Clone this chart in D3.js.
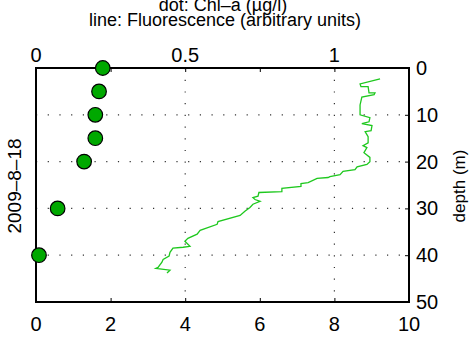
<!DOCTYPE html>
<html>
<head>
<meta charset="utf-8">
<script src="https://d3js.org/d3.v7.min.js"></script>
<style>
  body { margin: 0; background: #fff; }
  text { font-family: "Liberation Sans", Arial, Helvetica, sans-serif; fill: #000; }
</style>
</head>
<body>
<svg id="chart" width="470" height="338"></svg>
<script>
// Chl-a samples (dots), bottom axis
var chlDepth = [0, 5, 10, 15, 20, 30, 40];
var chlValue = [1.79, 1.69, 1.59, 1.59, 1.29, 0.58, 0.08];

// fluorescence profile (line), top axis
var fluorDepth = [2.3, 3.4, 4.0, 4.0, 5.3, 5.3, 5.7, 6.2, 7.9, 10.0, 10.6, 11.5, 11.9, 12.3, 13.4, 13.6,
  14.7, 16.0, 16.6, 17.0, 18.1, 19.1, 20.0, 20.6, 21.1, 21.7, 22.1, 22.8, 23.2, 23.4, 23.6, 24.5,
  24.7, 25.3, 25.7, 26.4, 26.6, 27.4, 27.7, 28.1, 28.5, 29.1, 29.8, 30.6, 31.5, 32.8, 33.4, 34.7,
  35.5, 36.4, 37.0, 38.1, 38.3, 38.5, 39.4, 40.2, 40.9, 41.5, 42.6, 42.8, 43.2, 43.8];
var fluorValue = [1.153, 1.086, 1.089, 1.113, 1.116, 1.136, 1.133, 1.092, 1.086, 1.086, 1.119, 1.116, 1.092, 1.126, 1.123, 1.103,
  1.113, 1.113, 1.096, 1.109, 1.099, 1.119, 1.119, 1.109, 1.076, 1.069, 1.029, 1.019, 0.985, 0.979, 0.942, 0.912,
  0.888, 0.888, 0.824, 0.824, 0.747, 0.744, 0.727, 0.734, 0.751, 0.727, 0.717, 0.700, 0.684, 0.610, 0.607, 0.550,
  0.540, 0.509, 0.499, 0.516, 0.493, 0.459, 0.449, 0.446, 0.426, 0.422, 0.409, 0.402, 0.449, 0.439];

var bottomTicks = [0, 2, 4, 6, 8, 10];
var topTicks = [0, 0.25, 0.5, 0.75, 1, 1.25];
var topLabels = [0, 0.5, 1];
var depthTicks = [0, 10, 20, 30, 40, 50];

var plotL = 36, plotR = 409, plotT = 68, plotB = 302;
var svg = d3.select("#chart");

var xChl = d3.scaleLinear().domain([0, 10]).range([plotL, plotR]);
var xFl = d3.scaleLinear().domain([0, 1.25]).range([plotL, plotR]);
var y = d3.scaleLinear().domain([0, 50]).range([plotT, plotB]);

// grid: horizontal from depth axis, vertical from top axis
var grid = svg.append("g")
  .attr("stroke", "#333").attr("stroke-width", 1.2).attr("stroke-dasharray", "1.2,10.5");
grid.selectAll("line.h").data([10, 20, 30, 40]).enter().append("line")
  .attr("x1", plotL).attr("x2", plotR)
  .attr("y1", function(d){ return y(d); }).attr("y2", function(d){ return y(d); });
grid.selectAll("line.v").data([0.5, 1]).enter().append("line")
  .attr("y1", plotT).attr("y2", plotB)
  .attr("x1", function(d){ return xFl(d); }).attr("x2", function(d){ return xFl(d); });

// fluorescence line
var line = d3.line()
  .x(function(d, i){ return xFl(fluorValue[i]); })
  .y(function(d){ return y(d); });
svg.append("path").datum(fluorDepth)
  .attr("d", line).attr("fill", "none")
  .attr("stroke", "#1ec81e").attr("stroke-width", 1.3);

// axes (ticks inward)
var xAxisB = d3.axisTop(xChl).tickValues(bottomTicks).tickSize(4).tickFormat("");
var gB = svg.append("g").attr("transform", "translate(0," + plotB + ")").call(xAxisB);
var xAxisT = d3.axisBottom(xFl).tickValues(topTicks).tickSize(4).tickFormat("");
var gT = svg.append("g").attr("transform", "translate(0," + plotT + ")").call(xAxisT);
var yAxisR = d3.axisLeft(y).tickValues(depthTicks).tickSize(4).tickFormat("");
var gR = svg.append("g").attr("transform", "translate(" + plotR + ",0)").call(yAxisR);
[gB, gT, gR].forEach(function(g){
  g.select(".domain").remove();
  g.selectAll(".tick line").attr("stroke", "#000").attr("stroke-width", 1);
});

// box
svg.append("rect").attr("x", plotL).attr("y", plotT)
  .attr("width", plotR - plotL).attr("height", plotB - plotT)
  .attr("fill", "none").attr("stroke", "#000").attr("stroke-width", 2);

// Chl-a dots
svg.selectAll("circle.chl").data(chlDepth).enter().append("circle")
  .attr("cx", function(d, i){ return xChl(chlValue[i]); })
  .attr("cy", function(d){ return y(d); })
  .attr("r", 7.3)
  .attr("fill", "#00a800").attr("stroke", "#000").attr("stroke-width", 1.2);

// tick labels
svg.selectAll("text.bl").data(bottomTicks).enter().append("text")
  .attr("x", function(d){ return xChl(d); }).attr("y", 331)
  .attr("text-anchor", "middle").attr("font-size", 20).text(function(d){ return d; });
svg.selectAll("text.tl").data(topLabels).enter().append("text")
  .attr("x", function(d){ return xFl(d); }).attr("y", 62)
  .attr("text-anchor", "middle").attr("font-size", 20).text(function(d){ return d; });
svg.selectAll("text.rl").data(depthTicks).enter().append("text")
  .attr("x", 416).attr("y", function(d){ return y(d) + 7; })
  .attr("font-size", 20).text(function(d){ return d; });

// titles
svg.append("text").attr("x", 223).attr("y", 11).attr("text-anchor", "middle")
  .attr("font-size", 18).text("dot: Chl\u2013a (\u00b5g/l)");
svg.append("text").attr("x", 225).attr("y", 26).attr("text-anchor", "middle")
  .attr("font-size", 18).text("line: Fluorescence (arbitrary units)");

svg.append("text").attr("transform", "translate(21,186) rotate(-90)")
  .attr("text-anchor", "middle").attr("font-size", 19).text("2009\u20138\u201318");
svg.append("text").attr("transform", "translate(465,186) rotate(-90)")
  .attr("text-anchor", "middle").attr("font-size", 17).text("depth (m)");
</script>
</body>
</html>
